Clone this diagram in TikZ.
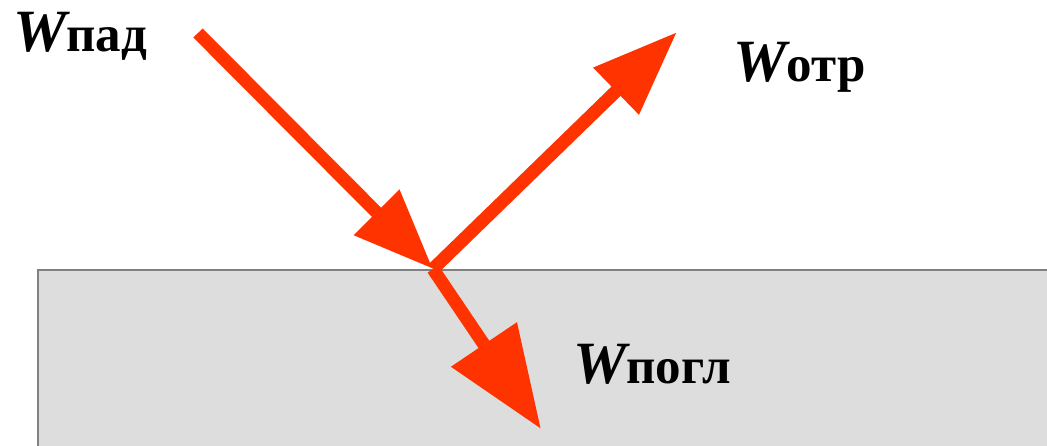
\documentclass[tikz,border=0pt]{standalone}
\usepackage{fontspec}
\setmainfont{Liberation Serif}
\usetikzlibrary{arrows.meta}
\definecolor{ray}{RGB}{255,51,0}
\definecolor{body}{RGB}{221,221,221}
\definecolor{edge}{RGB}{128,128,128}
\newcommand{\bigW}{{\fontsize{60}{64}\selectfont\itshape W}}
\tikzset{
  raybase/.style={draw=ray, line width=13pt},
  lbl/.style={anchor=base west, inner sep=0pt, font=\fontsize{51}{55}\selectfont\bfseries},
}
\begin{document}
\begin{tikzpicture}[x=1pt,y=-1pt]
\useasboundingbox (0,0) rectangle (1047,446);
\begin{scope}
\clip (0,0) rectangle (1047,446);
\draw[fill=body, draw=edge, line width=2pt] (38,270) rectangle (1070,470);
\end{scope}
\coordinate (O) at (433,269);
\coordinate (A) at (198,33);
\coordinate (R) at (677,32);
\coordinate (P) at (541,429);
\draw[raybase, -{Triangle[length=80pt,width=61pt]}] (A) -- (O);
\draw[raybase, -{Triangle[length=85pt,width=62pt]}] (O) -- (R);
\draw[raybase, -{Triangle[length=102pt,width=76pt]}] (O) -- (P);
\node[lbl] (lpad) at (13,52) {\bigW пад};
\node[lbl] (lotr) at (733,82) {\bigW отр};
\node[lbl] (lpog) at (573,383) {\bigW погл};
\end{tikzpicture}
\end{document}
